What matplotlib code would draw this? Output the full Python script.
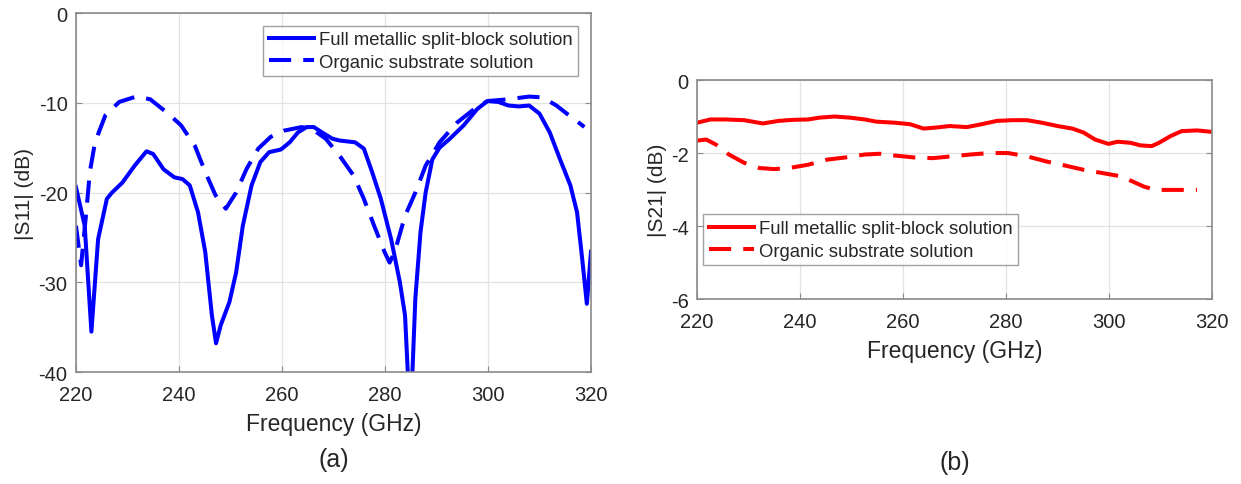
import numpy as np
import matplotlib
matplotlib.use("Agg")
import matplotlib.pyplot as plt

plt.rcParams["font.family"] = ["Liberation Sans", "DejaVu Sans"]
plt.rcParams["axes.unicode_minus"] = False

# (a) |S11|
s11_full_f = [220.0, 221.7, 223.0, 224.3, 226.0, 227.0, 229.0, 231.4, 233.7, 235.0,
              237.0, 239.1, 240.7, 242.1, 243.7, 245.1, 246.4, 247.2, 248.1, 249.8,
              251.1, 252.4, 254.1, 255.8, 257.5, 259.8, 261.5, 263.1, 264.8, 266.2,
              267.8, 269.8, 271.2, 274.2, 275.9, 277.5, 279.2, 281.2, 282.9, 283.9,
              284.6, 285.2, 285.9, 286.9, 287.9, 289.2, 290.6, 292.6, 295.3, 297.9,
              299.9, 302.0, 304.0, 306.0, 308.0, 310.0, 312.0, 314.0, 316.0, 317.3,
              318.3, 319.2, 320.0]
s11_full_db = [-19.4, -23.7, -35.5, -25.2, -20.7, -20.0, -18.9, -17.0, -15.4, -15.7,
               -17.4, -18.3, -18.5, -19.2, -22.2, -26.6, -33.7, -36.8, -34.8, -32.2,
               -28.9, -23.7, -19.2, -16.6, -15.5, -15.2, -14.4, -13.3, -12.7, -12.7,
               -13.3, -14.0, -14.2, -14.4, -15.1, -17.7, -20.7, -25.2, -30.0, -33.7,
               -42.0, -42.0, -31.8, -24.4, -20.0, -16.3, -15.0, -14.0, -12.5, -10.7,
               -9.8, -9.9, -10.3, -10.4, -10.3, -11.2, -13.3, -16.3, -19.2, -22.2,
               -27.4, -32.4, -26.6]

s11_org_f = [220.0, 221.0, 222.0, 222.7, 223.7, 225.7, 228.4, 231.7, 234.4, 237.7,
             240.4, 243.1, 245.1, 247.1, 249.1, 251.1, 253.1, 255.4, 257.8, 260.4,
             263.8, 265.8, 268.5, 271.2, 273.9, 275.9, 277.9, 279.9, 280.9, 281.9,
             283.9, 285.9, 287.9, 290.6, 294.0, 297.3, 299.9, 304.0, 308.0, 310.6,
             313.3, 315.3, 318.3, 318.7]
s11_org_db = [-23.7, -28.1, -22.2, -17.7, -14.4, -11.4, -9.9, -9.3, -9.6, -11.1,
              -12.5, -14.8, -17.7, -20.3, -21.8, -20.0, -17.4, -15.1, -13.8, -13.1,
              -12.7, -12.9, -14.0, -15.9, -18.1, -20.7, -23.7, -26.6, -27.8, -26.6,
              -22.6, -20.0, -17.0, -14.4, -12.2, -10.7, -9.8, -9.6, -9.3, -9.4,
              -10.3, -11.2, -12.5, -12.7]

# (b) |S21|
s21_full_f = [220.0, 222.6, 225.5, 229.2, 232.8, 235.8, 238.7, 241.6, 243.8, 246.7,
              249.7, 252.6, 254.8, 258.5, 261.4, 264.0, 266.5, 269.1, 272.4, 275.3,
              278.2, 281.2, 284.1, 287.0, 290.0, 292.9, 295.1, 297.3, 299.9, 301.7,
              304.2, 306.1, 308.3, 309.7, 311.9, 314.1, 317.1, 320.0]
s21_full_db = [-1.17, -1.08, -1.08, -1.10, -1.19, -1.12, -1.09, -1.08, -1.03, -1.00,
               -1.03, -1.08, -1.14, -1.17, -1.21, -1.33, -1.30, -1.26, -1.29, -1.21,
               -1.12, -1.10, -1.10, -1.17, -1.26, -1.33, -1.44, -1.63, -1.75, -1.69,
               -1.72, -1.79, -1.81, -1.72, -1.54, -1.40, -1.38, -1.42]

s21_org_f = [220.0, 221.8, 223.7, 226.2, 229.2, 232.1, 235.0, 237.9, 241.6, 245.3,
             248.9, 252.6, 255.5, 258.5, 262.1, 265.8, 269.5, 273.1, 276.8, 280.4,
             284.1, 287.8, 291.4, 295.1, 298.8, 302.4, 304.6, 306.8, 309.0, 311.9,
             314.8, 317.1]
s21_org_db = [-1.66, -1.63, -1.77, -2.04, -2.27, -2.41, -2.44, -2.41, -2.32, -2.18,
              -2.12, -2.04, -2.02, -2.07, -2.12, -2.14, -2.09, -2.04, -2.00, -2.00,
              -2.09, -2.23, -2.34, -2.46, -2.55, -2.64, -2.78, -2.92, -3.01, -3.01,
              -3.01, -3.01]

x_ticks = [220, 240, 260, 280, 300, 320]
labels = ["Full metallic split-block solution", "Organic substrate solution"]

TEXT = "#262626"
EDGE = "#8a8a8a"
DASH = (0, (5.5, 3.0))
LW = 2.9


def style_axes(ax, yticks):
    ax.set_xlim(220, 320)
    ax.set_xticks(x_ticks)
    ax.set_yticks(yticks)
    ax.grid(True, color="#e3e3e3", linewidth=0.9)
    ax.set_axisbelow(True)
    ax.tick_params(direction="in", length=4, colors=EDGE, labelcolor=TEXT,
                   labelsize=14.5, right=True)
    ax.tick_params(axis="x", pad=9)
    ax.tick_params(axis="y", pad=6)
    for sp in ax.spines.values():
        sp.set_color(EDGE)
        sp.set_linewidth(1.2)
    ax.set_xlabel("Frequency (GHz)", fontsize=16.5, color=TEXT, labelpad=6)


def add_legend(ax, **kw):
    leg = ax.legend(fontsize=13.3, frameon=True, fancybox=False, edgecolor=EDGE,
                    handlelength=2.45, handletextpad=0.28, borderpad=0.3,
                    labelspacing=0.3, **kw)
    leg.get_frame().set_linewidth(1.0)
    for t in leg.get_texts():
        t.set_color(TEXT)
    return leg


fig = plt.figure(figsize=(12.41, 4.85), dpi=100)

ax1 = fig.add_axes([0.0612, 0.2309, 0.415, 0.740])
ax1.plot(s11_full_f, s11_full_db, color="#0000ff", lw=LW, label=labels[0])
ax1.plot(s11_org_f, s11_org_db, color="#0000ff", lw=LW, ls=DASH, label=labels[1])
ax1.set_ylim(-40, 0)
style_axes(ax1, [-40, -30, -20, -10, 0])
ax1.set_ylabel("|S11| (dB)", fontsize=15, color=TEXT, labelpad=3)
add_legend(ax1, loc="upper right", borderaxespad=0.68)
ax1.text(0.5, -0.243, "(a)", transform=ax1.transAxes, ha="center", va="center",
         fontsize=18, color=TEXT)

ax2 = fig.add_axes([0.5616, 0.3814, 0.415, 0.4515])
ax2.plot(s21_full_f, s21_full_db, color="#ff0000", lw=LW, label=labels[0])
ax2.plot(s21_org_f, s21_org_db, color="#ff0000", lw=LW, ls=DASH, label=labels[1])
ax2.set_ylim(-6, 0)
style_axes(ax2, [-6, -4, -2, 0])
ax2.set_ylabel("|S21| (dB)", fontsize=15, color=TEXT, labelpad=3)
add_legend(ax2, loc="lower left", bbox_to_anchor=(0.0117, 0.155), borderaxespad=0.0)
ax2.text(0.5, -0.745, "(b)", transform=ax2.transAxes, ha="center", va="center",
         fontsize=18, color=TEXT)

fig.savefig("out.png", dpi=100)
